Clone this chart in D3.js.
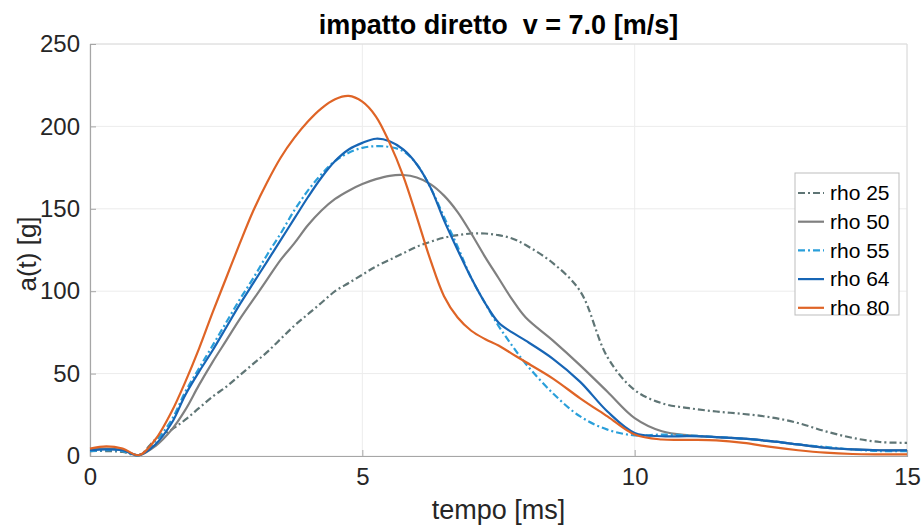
<!DOCTYPE html>
<html><head><meta charset="utf-8">
<script src="https://cdn.jsdelivr.net/npm/d3@7"></script>
<style>
html,body{margin:0;padding:0;background:#fff;}
svg{display:block;font-family:"Liberation Sans",Arial,Helvetica,sans-serif;}
</style></head>
<body><svg id="c" width="921" height="531"></svg>
<script>
const title = "impatto diretto  v = 7.0 [m/s]";
const xLabel = "tempo [ms]";
const yLabel = "a(t) [g]";
const xTicks = [0, 5, 10, 15];
const yTicks = [0, 50, 100, 150, 200, 250];
const seriesNames = ["rho 25", "rho 50", "rho 55", "rho 64", "rho 80"];

const time = [0,0.3,0.6,0.9,1.2,1.5,1.75,2,2.25,2.5,2.75,3,3.25,3.5,3.75,4,4.25,4.5,4.75,5,5.25,5.5,5.75,6,6.25,6.5,6.75,7,7.25,7.5,7.75,8,8.5,9,9.5,10,10.5,11,11.5,12,12.5,13,13.5,14,14.5,15];

const rho25 = [3,3,2.5,0.5,10,16,22,29,36,42,49,56,63,71,79,86,93,100,105,110,115,119,123,127,130,132.5,134,135,135,134,132,128,117,100,60,40,32,29,27,25.5,23.5,20,15,11,8.5,8];
const rho50 = [4,4.5,3.5,0.5,6,16,28,43,57,70,83,95,107,119,129,140,149,156,161,165,168,170,170.5,169,165,158,148,135,121,108,95,84,70,55,39,23,15,12.5,11.5,10.5,9,7,5,4,3.5,3.5];
const rho55 = [3,3.5,3,0.5,9,22,39,53,67,81,95,108,122,135,149,161,171,179,184,187,188,187.5,185,177,163,145,127,108,93,79,67,56,38,24,16,12.5,13,12.5,11.5,10.5,9,7,5.5,4,3,3];
const rho64 = [3.5,4,3.5,0.5,7,20,37,51,64,78,92,105,118,131,144,157,169,179,186,190,192.5,191,186,177,163,143,125,108,93,81,75,70,59,45,27,14,12,12,11.5,10.5,9,7,5,4,3.5,3.5];
const rho80 = [4.5,5.8,4.5,0.5,10,27,45,65,87,108,129,149,166,181,193,203,211,216.5,218.5,215,206,190,170,145,119,97,84,76,71,67,62,57,47,35,24,13,10,9.8,9.5,8,5.5,3.5,2,1.2,1,1];

const seriesValues = [rho25, rho50, rho55, rho64, rho80];
const colors = ["#5f7575", "#808080", "#2a9fda", "#1765b5", "#df6426"];
const dashes = ["7,3,2,3", null, "7,3,2,3", null, null];

const svg = d3.select("#c");
const L = 90, R = 907, T = 44, B = 456;
const x = d3.scaleLinear().domain([0, 15]).range([L, R]);
const y = d3.scaleLinear().domain([0, 250]).range([B, T]);

// grid
const g = svg.append("g");
g.selectAll(".gx").data(xTicks).join("line")
  .attr("x1", d => x(d)).attr("x2", d => x(d)).attr("y1", T).attr("y2", B)
  .attr("stroke", "#ececec").attr("stroke-width", 1);
g.selectAll(".gy").data(yTicks).join("line")
  .attr("x1", L).attr("x2", R).attr("y1", d => y(d)).attr("y2", d => y(d))
  .attr("stroke", "#ececec").attr("stroke-width", 1);

// box top/right
svg.append("line").attr("x1", L).attr("x2", R).attr("y1", T).attr("y2", T).attr("stroke", "#dcdcdc");
svg.append("line").attr("x1", R).attr("x2", R).attr("y1", T).attr("y2", B).attr("stroke", "#dcdcdc");

// axes
const xAxis = d3.axisBottom(x).tickValues(xTicks).tickSize(-6).tickPadding(12).tickFormat(d3.format("d"));
const yAxis = d3.axisLeft(y).tickValues(yTicks).tickSize(-6).tickPadding(10).tickFormat(d3.format("d"));
const gx = svg.append("g").attr("transform", `translate(0,${B})`).call(xAxis);
const gy = svg.append("g").attr("transform", `translate(${L},0)`).call(yAxis);
[gx, gy].forEach(a => {
  a.select(".domain").attr("stroke", "#a6a6a6").attr("stroke-width", 1.2);
  a.selectAll(".tick line").attr("stroke", "#a6a6a6");
  a.selectAll(".tick text").attr("fill", "#262626").style("font-size", "24px")
    .style("font-family", "'Liberation Sans', Arial, sans-serif");
});
gx.selectAll(".tick text").attr("dy", "0.71em");

// lines
const line = d3.line().x((d, i) => x(time[i])).y(d => y(d)).curve(d3.curveCatmullRom.alpha(0.5));
const plot = svg.append("g");
seriesValues.forEach((vals, k) => {
  plot.append("path").datum(vals)
    .attr("d", line)
    .attr("fill", "none")
    .attr("stroke", colors[k])
    .attr("stroke-width", 2.2)
    .attr("stroke-dasharray", dashes[k])
    .attr("stroke-linejoin", "round");
});

// title
svg.append("text").attr("x", (L + R) / 2).attr("y", 34).attr("text-anchor", "middle")
  .style("font-size", "27px").style("font-weight", "bold").attr("fill", "#000")
  .style("white-space", "pre").attr("xml:space", "preserve").text(title);

// axis labels
svg.append("text").attr("x", (L + R) / 2).attr("y", 519).attr("text-anchor", "middle")
  .style("font-size", "27px").attr("fill", "#262626").text(xLabel);
svg.append("text").attr("transform", `translate(36,254) rotate(-90)`).attr("text-anchor", "middle")
  .style("font-size", "26px").attr("fill", "#262626").text(yLabel);

// legend
const lg = svg.append("g");
lg.append("rect").attr("x", 795).attr("y", 173).attr("width", 104).attr("height", 142)
  .attr("fill", "#fff").attr("stroke", "#bdbdbd").attr("stroke-width", 1);
seriesNames.forEach((n, k) => {
  const yy = 193 + k * 28.7;
  lg.append("line").attr("x1", 798).attr("x2", 824).attr("y1", yy).attr("y2", yy)
    .attr("stroke", colors[k]).attr("stroke-width", 2.2).attr("stroke-dasharray", dashes[k]);
  lg.append("text").attr("x", 830).attr("y", yy).attr("dy", "0.35em")
    .style("font-size", "21px").attr("fill", "#000").text(n);
});
</script></body></html>
